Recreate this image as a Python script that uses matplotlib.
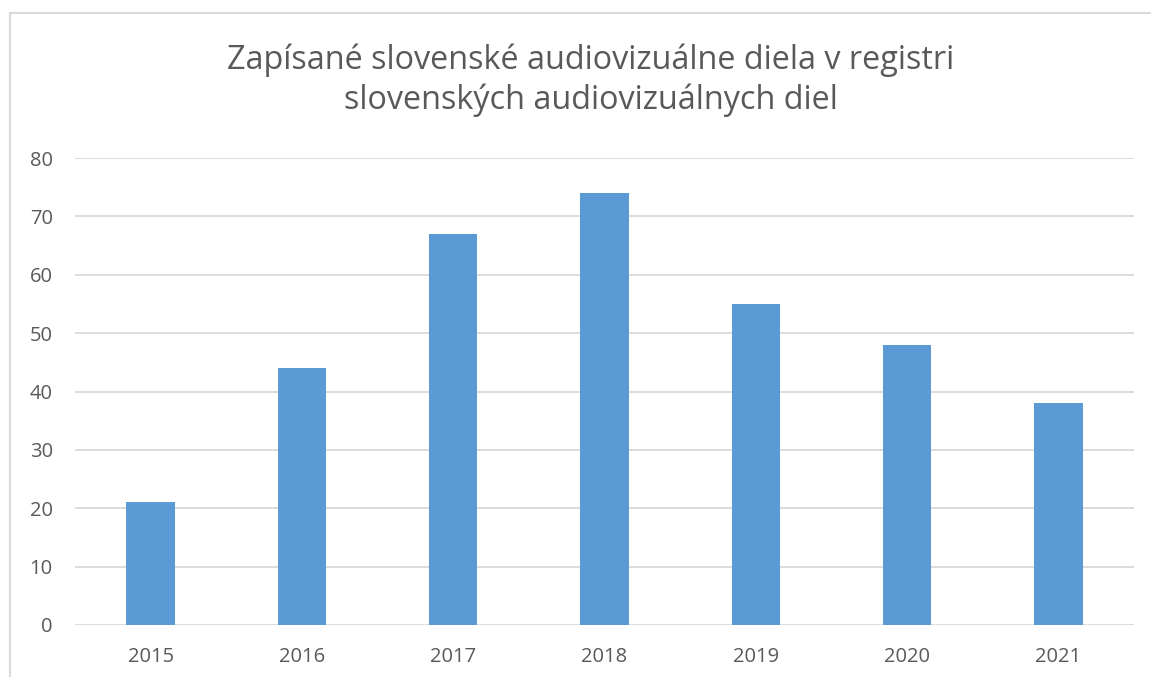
import matplotlib
matplotlib.use("Agg")
import matplotlib.pyplot as plt
from matplotlib.patches import Rectangle

# data
years = ["2015", "2016", "2017", "2018", "2019", "2020", "2021"]
counts = [21, 44, 67, 74, 55, 48, 38]
y_ticks = [0, 10, 20, 30, 40, 50, 60, 70, 80]

title = "Zapísané slovenské audiovizuálne diela v registri\nslovenských audiovizuálnych diel"

bar_color = "#5B9BD5"
grid_color = "#D9D9D9"
text_color = "#595959"

plt.rcParams["font.family"] = ["Open Sans", "DejaVu Sans"]

fig = plt.figure(figsize=(11.51, 6.77), dpi=100)
fig.patch.set_facecolor("white")

# chart frame (cropped at right and bottom in the reference)
fig.patches.append(Rectangle((10 / 1151, -0.05), 1.2, 1 - 13 / 677 + 0.05,
                             transform=fig.transFigure, fill=False,
                             edgecolor=grid_color, linewidth=1.5))

ax = fig.add_axes([75 / 1151, 52 / 677, 1059 / 1151, 467 / 677])
x = range(len(years))
ax.bar(x, counts, width=0.32, color=bar_color, zorder=3)

ax.set_ylim(0, 80)
ax.set_xlim(-0.5, len(years) - 0.5)
ax.set_yticks(y_ticks)
ax.set_xticks(list(x))
ax.set_xticklabels(years)
ax.yaxis.grid(True, color=grid_color, linewidth=1.3, zorder=0)
ax.tick_params(axis="both", length=0, labelsize=14.5, labelcolor=text_color)
ax.tick_params(axis="y", pad=16)
ax.tick_params(axis="x", pad=16)
for side in ["top", "right", "left", "bottom"]:
    ax.spines[side].set_visible(False)

fig.text(591 / 1151, 1 - 80 / 677, title, ha="center", va="center",
         fontsize=23.3, color=text_color, linespacing=1.25)

fig.savefig("out.png", dpi=100)
